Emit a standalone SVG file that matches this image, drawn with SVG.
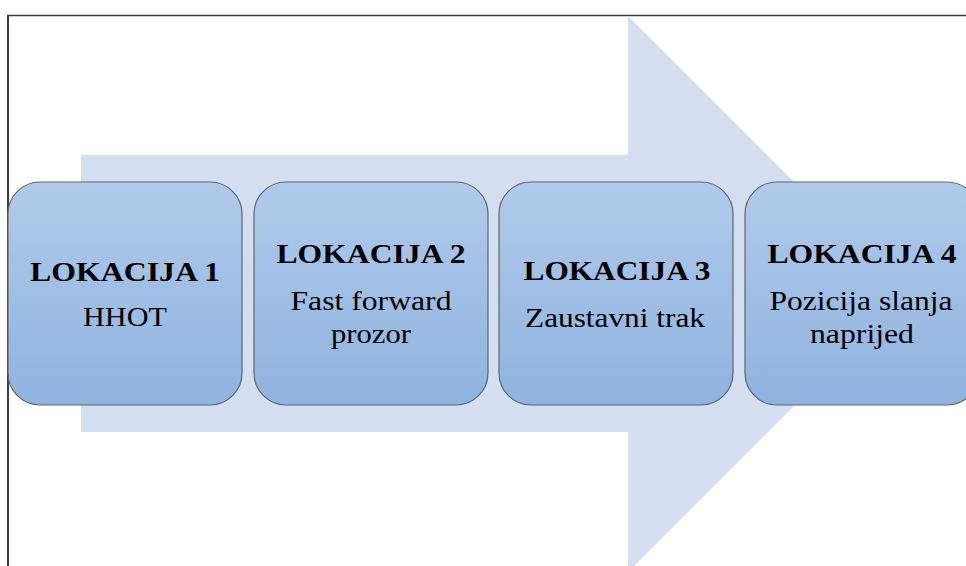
<svg xmlns="http://www.w3.org/2000/svg" width="966" height="566" viewBox="0 0 966 566">
<defs>
<linearGradient id="boxg" x1="0" y1="0" x2="0" y2="1">
<stop offset="0" stop-color="#b1caea"/>
<stop offset="1" stop-color="#8eb3df"/>
</linearGradient>
<style>
.box{fill:url(#boxg);stroke:#5f6670;stroke-width:1.2}
.t{font-size:28px;fill:#000;text-anchor:middle}
.b{font-weight:bold}
.frame{stroke:#3c3c3c;fill:none}
</style>
</defs>
<rect width="966" height="566" fill="#ffffff"/>
<g id="frame">
<line class="frame" x1="7" y1="15.5" x2="966" y2="15.5" stroke-width="1.5"/>
<line class="frame" x1="8" y1="15" x2="8" y2="566" stroke-width="2" stroke="#555"/>
</g>
<g id="arrow">
<polygon points="81,155 628,155 628,16 906,294 628,572 628,432 81,432" fill="#d3dff0"/>
</g>
<g id="connectors"></g>
<g font-family="'Liberation Serif', 'Times New Roman', serif">
<g id="node1">
<rect class="box" x="8" y="182" width="234" height="223" rx="32" ry="32"/>
<text class="t b" x="125" y="281" textLength="190" lengthAdjust="spacingAndGlyphs">LOKACIJA 1</text>
<text class="t" x="125" y="326" textLength="84" lengthAdjust="spacingAndGlyphs">HHOT</text>
</g>
<g id="node2">
<rect class="box" x="254" y="182" width="234" height="223" rx="32" ry="32"/>
<text class="t b" x="371" y="263" textLength="189" lengthAdjust="spacingAndGlyphs">LOKACIJA 2</text>
<text class="t" x="371" y="310" textLength="161" lengthAdjust="spacingAndGlyphs">Fast forward</text>
<text class="t" x="371" y="343" textLength="80" lengthAdjust="spacingAndGlyphs">prozor</text>
</g>
<g id="node3">
<rect class="box" x="499" y="182" width="234" height="223" rx="32" ry="32"/>
<text class="t b" x="617" y="280" textLength="187" lengthAdjust="spacingAndGlyphs">LOKACIJA 3</text>
<text class="t" x="615" y="327" textLength="180" lengthAdjust="spacingAndGlyphs">Zaustavni trak</text>
</g>
<g id="node4">
<rect class="box" x="745" y="182" width="234" height="223" rx="32" ry="32"/>
<text class="t b" x="862" y="263" textLength="189" lengthAdjust="spacingAndGlyphs">LOKACIJA 4</text>
<text class="t" x="861" y="310" textLength="183" lengthAdjust="spacingAndGlyphs">Pozicija slanja</text>
<text class="t" x="862" y="343" textLength="104" lengthAdjust="spacingAndGlyphs">naprijed</text>
</g>
</g>
</svg>
